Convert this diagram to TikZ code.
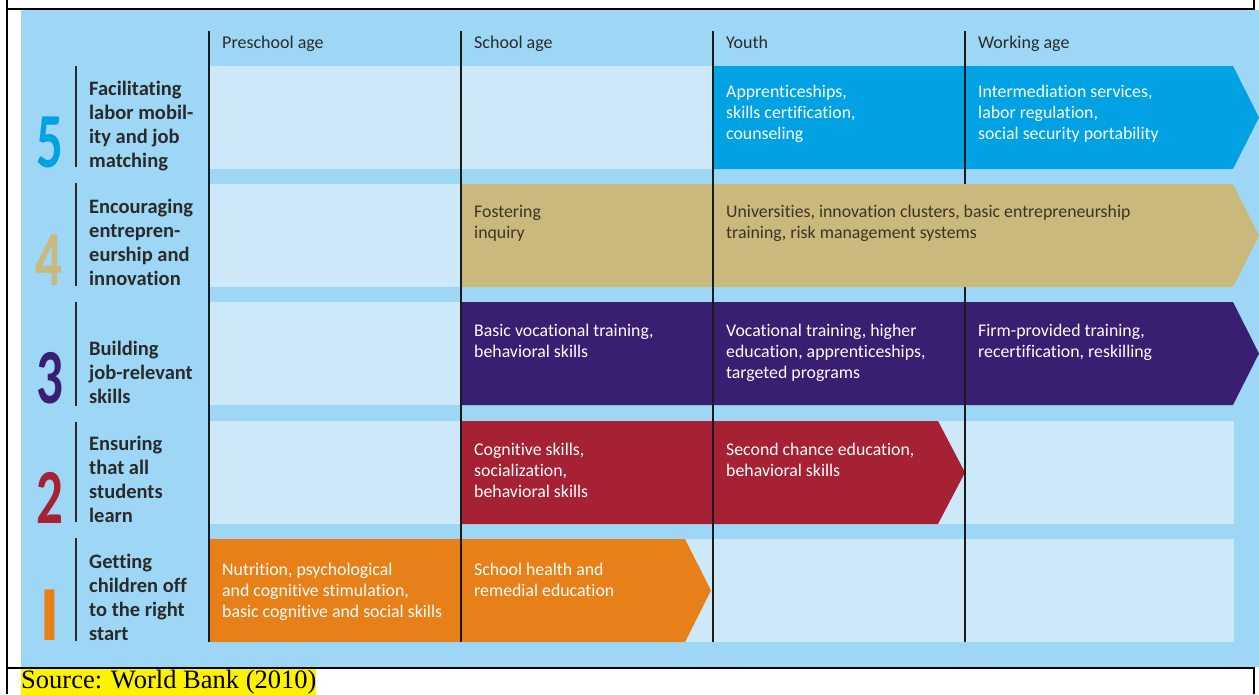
\documentclass[tikz,border=0pt]{standalone}
\usepackage{fontspec}
\setmainfont{Carlito}[Ligatures={NoCommon}]
\newfontfamily\sourcefont{Liberation Serif}

\definecolor{bgblue}{HTML}{9DD7F5}
\definecolor{bandblue}{HTML}{CDE9F9}
\definecolor{skyarrow}{HTML}{00A2E3}
\definecolor{tanarrow}{HTML}{C9B97C}
\definecolor{purplearrow}{HTML}{3A1E72}
\definecolor{redarrow}{HTML}{A62134}
\definecolor{orangearrow}{HTML}{E88019}
\definecolor{labeldark}{HTML}{2A2A2A}
\definecolor{tantext}{HTML}{3B3526}
\definecolor{gridblack}{HTML}{1A1A1A}

\begin{document}
\begin{tikzpicture}[x=1pt,y=-1pt,
  % multi-line nodes: the anchor sits on the baseline of the last line
  celltext/.style={anchor=base west, align=left, inner sep=0pt,
    font=\fontsize{17.8}{21}\selectfont, text=white},
  rowlabel/.style={anchor=base west, align=left, inner sep=0pt,
    font=\fontsize{20.5}{23.8}\selectfont\bfseries, text=labeldark},
  colhead/.style={anchor=base west, inner sep=0pt,
    font=\fontsize{18}{21}\selectfont, text=labeldark},
  bignum/.style={anchor=base, inner sep=0pt,
    font=\fontsize{78}{78}\selectfont\bfseries},
  gridline/.style={line width=1.3pt, draw=gridblack},
  labelline/.style={line width=1.5pt, draw=labeldark},
  frameline/.style={line width=2pt, draw=black},
  band/.style={fill=bandblue},
]
\useasboundingbox (0,0) rectangle (1259,694);

% outer table frame
\draw[frameline] (7,0) -- (7,694);
\draw[frameline] (1254,0) -- (1254,9);
\draw[frameline] (1254,667) -- (1254,694);

% panel background
\fill[bgblue] (21,9.5) rectangle (1259,667);

\draw[frameline] (6,8.5) -- (1255,8.5);
\draw[frameline] (6,667.5) -- (1255,667.5);

% light row bands
\foreach \t in {66,184,302,421,539}
  \fill[band] (209,\t) rectangle (1234,\t+103);

% colored arrow bars
\fill[skyarrow]    (713,66)  -- (1233,66)  -- (1259,117.5) -- (1233,169) -- (713,169) -- cycle;
\fill[purplearrow] (461,302) -- (1233,302) -- (1259,353.5) -- (1233,405) -- (461,405) -- cycle;
\fill[redarrow]    (461,421) -- (938,421)  -- (965,472.5)  -- (938,524)  -- (461,524) -- cycle;
\fill[orangearrow] (209,539) -- (685,539)  -- (711,590.5)  -- (685,642)  -- (209,642) -- cycle;

% column separators
\foreach \x in {209,461,713,965}
  \draw[gridline] (\x,31) -- (\x,642);

% the tan bar runs across the last separator
\fill[tanarrow]    (461,184) -- (1233,184) -- (1259,235.5) -- (1233,287) -- (461,287) -- cycle;
\foreach \x in {461,713}
  \draw[gridline] (\x,184) -- (\x,287);

% row label separators
\draw[labelline] (76,66) -- (76,167);
\draw[labelline] (76,183) -- (76,286);
\draw[labelline] (76,302) -- (76,406);
\draw[labelline] (76,422) -- (76,522);
\draw[labelline] (76,538) -- (76,641);

% column headings
\node[colhead] (hpre)   at (222,48) {Preschool age};
\node[colhead] (hschool) at (474,48) {School age};
\node[colhead] (hyouth) at (726,48) {Youth};
\node[colhead] (hwork)  at (978,48) {Working age};

% row numbers
\node[bignum, text=skyarrow]    (n5) at (50,167) {\scalebox{0.68}[1]{5}};
\node[bignum, text=tanarrow]    (n4) at (49,285) {\scalebox{0.68}[1]{4}};
\node[bignum, text=purplearrow] (n3) at (50,403) {\scalebox{0.68}[1]{3}};
\node[bignum, text=redarrow]    (n2) at (50,523) {\scalebox{0.68}[1]{2}};
\node[bignum, text=orangearrow] (n1) at (49.5,640) {I};

% row labels
\node[rowlabel] (l5) at (89,167) {Facilitating\\labor mobil-\\ity and job\\matching};
\node[rowlabel] (l4) at (89,285) {Encouraging\\entrepren-\\eurship and\\innovation};
\node[rowlabel] (l3) at (89,403) {Building\\job-relevant\\skills};
\node[rowlabel] (l2) at (89,522) {Ensuring\\that all\\students\\learn};
\node[rowlabel] (l1) at (89,640) {Getting\\children off\\to the right\\start};

% row 5 cells
\node[celltext] (c5y) at (726,139.5) {Apprenticeships,\\skills certification,\\counseling};
\node[celltext] (c5w) at (978,139.5) {Intermediation services,\\labor regulation,\\social security portability};

% row 4 cells
\node[celltext, text=tantext] (c4s) at (474,238) {Fostering\\inquiry};
\node[celltext, text=tantext] (c4y) at (726,238) {Universities, innovation clusters, basic entrepreneurship\\training, risk management systems};

% row 3 cells
\node[celltext] (c3s) at (474,357) {Basic vocational training,\\behavioral skills};
\node[celltext] (c3y) at (726,378) {Vocational training, higher\\education, apprenticeships,\\targeted programs};
\node[celltext] (c3w) at (978,357) {Firm-provided training,\\recertification, reskilling};

% row 2 cells
\node[celltext] (c2s) at (474,497.5) {Cognitive skills,\\socialization,\\behavioral skills};
\node[celltext] (c2y) at (726,476.5) {Second chance education,\\behavioral skills};

% row 1 cells
\node[celltext] (c1p) at (222,617) {Nutrition, psychological\\and cognitive stimulation,\\basic cognitive and social skills};
\node[celltext] (c1s) at (474,596) {School health and\\remedial education};

% source line
\node[anchor=base west, inner xsep=0pt, inner ysep=0pt, fill=yellow,
      text height=19.5pt, text depth=7pt,
      font=\sourcefont\fontsize{26.5}{30}\selectfont] (src) at (21,688) {Source: World Bank (2010)};
\end{tikzpicture}
\end{document}
